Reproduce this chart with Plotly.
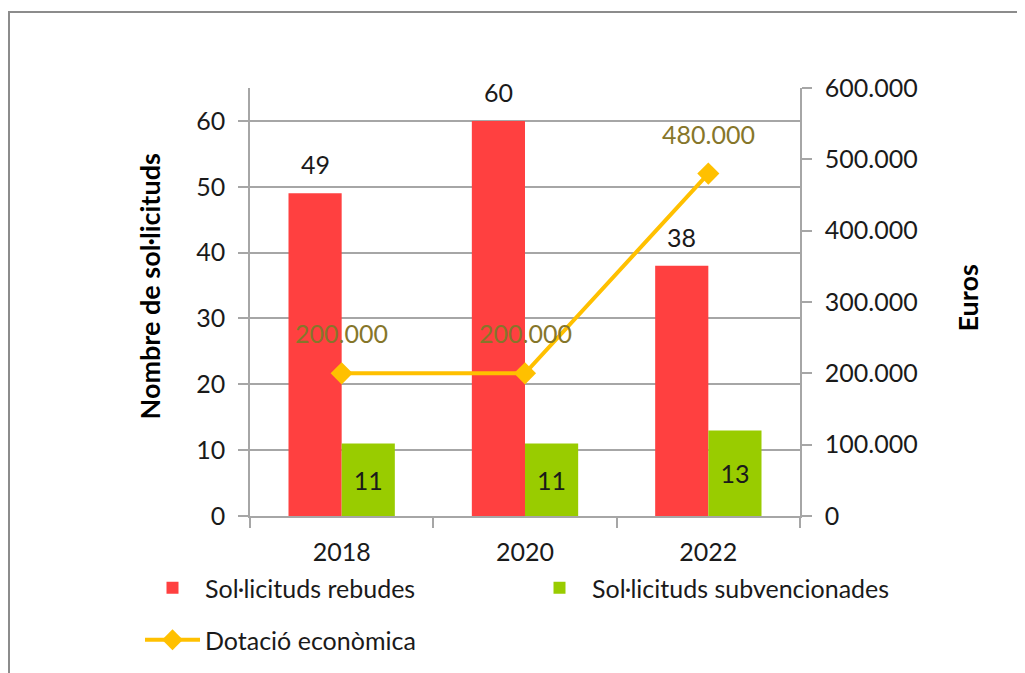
import plotly.graph_objects as go

years = ["2018", "2020", "2022"]
rebudes = [49, 60, 38]
subvencionades = [11, 11, 13]
dotacio = [200000, 200000, 480000]

left_ticks = [0, 10, 20, 30, 40, 50, 60]
right_ticks = [0, 100000, 200000, 300000, 400000, 500000, 600000]

RED = "#FF4040"
GREEN = "#99CC00"
GOLD = "#FFC000"
OLIVE = "#86762A"
GRID = "#A6A6A6"
TXT = "#1A1A1A"
FONT = "Lato, 'Open Sans', sans-serif"
FS = 25
W, H = 1025, 673
OX, OY = 8, 8          # page offset of the figure inside the browser window
PL, PR, PT, PB = 250, 800, 88, 516   # plot area in screen pixels

def fmt(v):
    return f"{v:,}".replace(",", ".")

def px(sx):  # screen x -> paper x
    return (sx - PL) / (PR - PL)

def py(sy):  # screen y -> paper y
    return (PB - sy) / (PB - PT)

def cx(sx):  # screen x -> container x
    return (sx - OX) / W

def cy(sy):  # screen y -> container y
    return 1 - (sy - OY) / H

fig = go.Figure()
fig.add_trace(go.Bar(
    x=years, y=rebudes, name="Sol·licituds rebudes",
    marker=dict(color=RED, line=dict(width=0)), legend="legend2", showlegend=True,
))
fig.add_trace(go.Bar(
    x=years, y=subvencionades, name="Sol·licituds subvencionades",
    marker=dict(color=GREEN, line=dict(width=0)),
    text=[str(v) for v in subvencionades], textposition="inside",
    insidetextanchor="middle", textangle=0,
    textfont=dict(color=TXT, size=FS, family=FONT),
    legend="legend3", showlegend=True,
))
fig.add_trace(go.Scatter(
    x=years, y=dotacio, name="Dotació econòmica", yaxis="y2",
    mode="lines+markers", line=dict(color=GOLD, width=4),
    marker=dict(symbol="diamond", size=17, color=GOLD),
    legend="legend4", showlegend=True,
))

annotations = []
for i, v in enumerate(rebudes):
    annotations.append(dict(
        x=i, y=v, xref="x", yref="y", text=str(v), showarrow=False,
        xshift=-26.5, yshift=29, font=dict(size=FS, color=TXT, family=FONT),
    ))
for i, v in enumerate(dotacio):
    annotations.append(dict(
        x=i, y=v, xref="x", yref="y2", text=fmt(v), showarrow=False,
        yshift=40, font=dict(size=FS, color=OLIVE, family=FONT),
    ))
annotations.append(dict(
    x=px(130), y=py(287), xref="paper", yref="paper",
    text="<b>Nombre de sol·licituds</b>", textangle=-90, showarrow=False,
    font=dict(size=27, color="#000", family=FONT),
))
annotations.append(dict(
    x=px(985), y=py(298), xref="paper", yref="paper",
    text="<b>Euros</b>", textangle=-90, showarrow=False,
    font=dict(size=27, color="#000", family=FONT),
))

legend_common = dict(
    orientation="h", xanchor="left", yanchor="middle",
    xref="container", yref="container",
    font=dict(size=FS, color=TXT, family=FONT), bgcolor="rgba(0,0,0,0)",
    itemwidth=55, itemclick=False, itemdoubleclick=False,
)

fig.update_layout(
    width=W, height=H,
    margin=dict(l=PL - OX, r=W - (PR - OX), t=PT - OY, b=H - (PB - OY), autoexpand=False),
    paper_bgcolor="white", plot_bgcolor="white",
    separators=",.", showlegend=True,
    font=dict(family=FONT, size=FS, color=TXT),
    barmode="group", bargap=0.42, bargroupgap=0,
    xaxis=dict(
        type="category", range=[-0.5, 2.5], showline=True, linecolor=GRID,
        linewidth=1.5, automargin=False,
        ticks="outside", tickson="boundaries", ticklen=10, tickcolor=GRID,
        tickwidth=1.5, showgrid=False, tickfont=dict(size=FS, color=TXT),
        tickangle=0, ticklabelstandoff=13,
    ),
    yaxis=dict(
        range=[0, 65], tickvals=left_ticks, showline=True, linecolor=GRID,
        linewidth=1.5, ticks="outside", ticklen=10, tickcolor=GRID, tickwidth=1.5,
        showgrid=True, gridcolor=GRID, gridwidth=1.5, zeroline=False,
        tickfont=dict(size=FS, color=TXT), ticklabelstandoff=8, automargin=False,
    ),
    yaxis2=dict(
        range=[0, 600000], tickvals=right_ticks, tickformat=",d",
        overlaying="y", side="right", showline=True, linecolor=GRID,
        linewidth=1.5, ticks="outside", ticklen=10, tickcolor=GRID, tickwidth=1.5,
        showgrid=False, zeroline=False, tickfont=dict(size=FS, color=TXT),
        ticklabelstandoff=8, automargin=False,
    ),
    legend2=dict(x=cx(140), y=cy(588), **legend_common),
    legend3=dict(x=cx(527), y=cy(588), **legend_common),
    legend4=dict(x=cx(140), y=cy(640), **legend_common),
    annotations=annotations,
    shapes=[dict(
        type="rect", xref="paper", yref="paper",
        x0=px(9), x1=2.0, y0=-1.0, y1=py(12),
        line=dict(color="#8C8C8C", width=2), fillcolor="rgba(0,0,0,0)", layer="below",
    )],
)

fig.write_html("out.html")
